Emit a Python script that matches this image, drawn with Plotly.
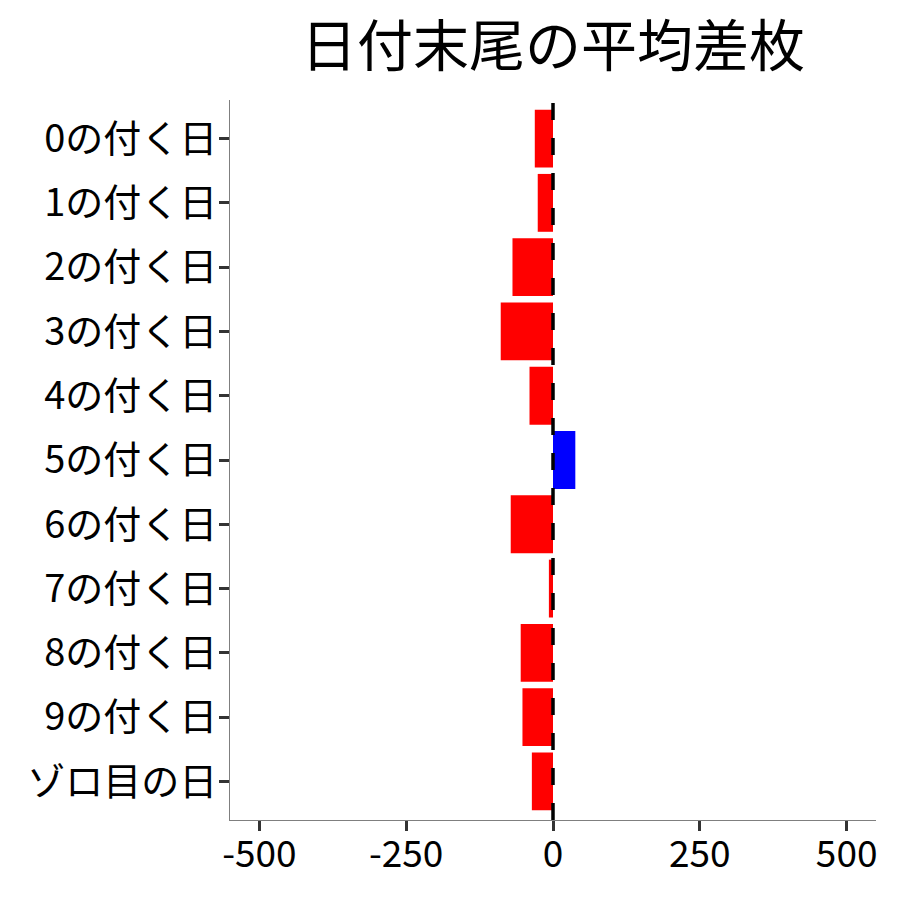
import plotly.graph_objects as go

categories = ["0の付く日", "1の付く日", "2の付く日", "3の付く日", "4の付く日",
              "5の付く日", "6の付く日", "7の付く日", "8の付く日", "9の付く日", "ゾロ目の日"]
values = [-31, -26, -69, -89, -40, 38, -72, -7, -55, -52, -36]
x_ticks = [-500, -250, 0, 250, 500]
title_text = "日付末尾の平均差枚"

colors = ["#0000FF" if v > 0 else "#FF0000" for v in values]

FONT = "Noto Sans CJK JP"

fig = go.Figure()
fig.add_trace(go.Bar(
    x=values, y=categories, orientation="h",
    marker=dict(color=colors, line=dict(width=0)),
    showlegend=False,
))

fig.add_shape(type="line", xref="x", yref="paper", x0=0, x1=0, y0=0, y1=1,
              line=dict(color="black", width=3.5, dash="17px,18px"), layer="above")

fig.update_layout(
    width=900, height=900,
    margin=dict(l=230, r=24, t=100, b=80),
    plot_bgcolor="white", paper_bgcolor="white",
    bargap=0.1,
    font=dict(family=FONT, color="black"),
    title=dict(text=title_text, x=0.5, xref="paper", xanchor="center",
               y=1 - 46 / 900, yref="container", yanchor="middle",
               font=dict(size=56, family=FONT, color="black")),
)
fig.update_xaxes(
    range=[-550, 550], tickvals=x_ticks, ticktext=[str(t) for t in x_ticks],
    showgrid=False, zeroline=False,
    showline=True, linecolor="#7f7f7f", linewidth=1.2,
    ticks="outside", ticklen=10, tickwidth=3, tickcolor="#333333",
    ticklabelstandoff=-9,
    tickfont=dict(size=37, family=FONT, color="black"),
)
fig.update_yaxes(
    type="category", categoryorder="array", categoryarray=categories,
    range=[10.6, -0.6],
    showgrid=False, zeroline=False,
    showline=True, linecolor="#7f7f7f", linewidth=1.2,
    ticks="outside", ticklen=10, tickwidth=3, tickcolor="#333333",
    ticklabelstandoff=-6,
    tickfont=dict(size=38, family=FONT, color="black"),
)

fig.write_html("out.html",
               config={"displayModeBar": False},
               post_script="document.body.style.margin='0px';document.body.style.padding='0px';")
